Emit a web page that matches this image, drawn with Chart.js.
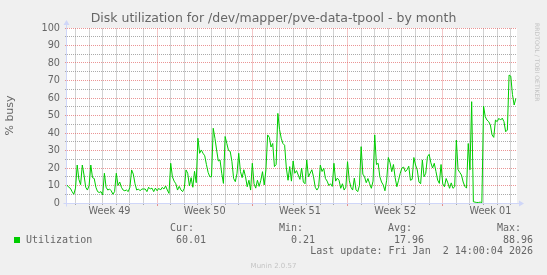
<!DOCTYPE html>
<html>
<head>
<meta charset="utf-8">
<title>Disk utilization for /dev/mapper/pve-data-tpool - by month</title>
<script src="https://cdn.jsdelivr.net/npm/chart.js@4.4.1/dist/chart.umd.min.js"></script>
<style>
  html, body { margin: 0; padding: 0; background: #f0f0f0; }
  canvas { display: block; }
</style>
</head>
<body>
<canvas id="grafico" width="547" height="275"></canvas>
<script>
const stepHours = 3;
const xMaxHours = 794;
const weekLabels = ['Week 49', 'Week 50', 'Week 51', 'Week 52', 'Week 01'];
const weekStartHours = [-9, 159, 327, 495, 663];   // domingo 00:00, em horas desde o início
const firstMidnight = 15;

const busy = [
  10.3, 9, 8.4, 6.5, 5, 8.5, 21.7, 13.5, 10.5, 21.7, 16, 9, 7.4, 10, 21.7, 14.5, 14, 9, 6.5, 6,
  6.5, 4.6, 17, 9, 7.4, 8, 7, 5, 6.5, 17, 10, 12, 9, 7.4, 7, 7.4, 6.5, 9, 18.9, 16.5,
  11, 7.4, 8, 7, 8, 8, 8, 6.5, 9, 8, 8.5, 6.5,
  8.5, 7, 8.4, 7.4, 8.9, 8, 9.7, 7.4, 5.5, 22.7, 15, 12.5, 11, 7.4, 9.5, 7.5, 6.5, 8.4, 18.9, 17,
  9.7, 14.5, 9, 18.1, 11.6, 37, 28.4, 30.3, 28.4, 27, 22, 17.5, 15, 15, 42.7, 37, 30.3, 24, 24.6, 17,
  11.2, 38, 34, 30, 29.5, 23.6, 14, 12.2, 17, 28.4, 18, 14.5, 19,
  15, 9.3, 13, 7.4, 22.7, 11, 8.5, 13, 9.5, 13, 17.9, 10.3, 18.9, 38.9, 37.5, 32, 34, 20.8, 22, 51.2,
  42, 37, 34, 33, 20, 13, 20.8, 12.5, 24, 17, 18.5, 16, 13.5, 20, 12, 11, 24.6, 15, 17, 19,
  14.9, 9, 7.4, 9, 21.7, 18, 19.8, 14, 12.5, 10, 11, 9.5, 22.7,
  12.5, 14.2, 13, 8.4, 11, 7.4, 9, 23.6, 13, 9, 7.4, 14.2, 7.5, 6.5, 10, 32.2, 16.5, 15, 11.6, 14,
  11, 8.4, 12.5, 38.9, 22, 22.7, 15, 12, 10.3, 7, 13, 26, 23, 17.9, 22, 14.5, 9.3, 13, 17, 20,
  20.5, 17.9, 19, 21, 13, 13.5, 26, 21.7, 18.9, 12, 11, 24.6, 15,
  17, 26.5, 27.8, 23, 20, 22.7, 18, 13.1, 11.2, 22, 10.9, 9.3, 14, 11.5, 8.4, 11.5, 8.4, 9.3, 36, 19,
  17.5, 16, 12, 9.5, 8.5, 34, 19, 57.9, 0.7, 0.5, 0.3, 0.3, 0.5, 0.2, 55.4, 49.3, 47.4, 46.5, 44.6, 38.9,
  37.5, 47.4, 46.5, 48.4, 47.4, 48.5, 46.5, 40.7, 41.7, 73.1, 72.5, 62, 56, 59.8
];

const statNames = ['Cur:', 'Min:', 'Avg:', 'Max:'];
const statValues = ['60.01', '0.21', '17.96', '88.96'];
const seriesName = 'Utilization';
const lastUpdate = 'Last update: Fri Jan  2 14:00:04 2026';

const MAJOR = 'rgba(222,79,79,0.6)';
const MINOR = 'rgba(143,143,143,0.75)';
// linhas verticais: contínuas, com metade da opacidade (mesmo tom médio do pontilhado)
const MAJOR_V = 'rgba(222,79,79,0.32)';
const MINOR_V = 'rgba(143,143,143,0.4)';
const AXIS = '#cfd6f8';
const TEXT = '#666666';
const SANS = '"DejaVu Sans", sans-serif';
const MONO = '"DejaVu Sans Mono", monospace';

const yGridColor = c => c.tick.value === 0 ? 'rgba(0,0,0,0)' : (c.tick.value % 10 === 0 ? MAJOR : MINOR);

// fundo cinza + área branca
const fundo = {
    id: 'fundo',
    beforeDraw(chart) {
        const { ctx, chartArea: a } = chart;
        ctx.save();
        ctx.fillStyle = '#f0f0f0';
        ctx.fillRect(0, 0, chart.width, chart.height);
        ctx.fillStyle = '#ffffff';
        ctx.fillRect(a.left, a.top, a.right - a.left, a.bottom - a.top);
        ctx.restore();
    }
};

// eixos com setas, no estilo rrdtool
const eixos = {
    id: 'eixos',
    beforeDatasetsDraw(chart) {
        const { ctx, chartArea: a } = chart;
        const x0 = a.left - 0.5, y0 = a.bottom + 0.5;
        ctx.save();
        ctx.strokeStyle = AXIS;
        ctx.fillStyle = AXIS;
        ctx.lineWidth = 1;
        ctx.beginPath();
        ctx.moveTo(x0, y0 + 3); ctx.lineTo(x0, a.top - 3);
        ctx.moveTo(x0 - 3, y0); ctx.lineTo(a.right + 2, y0);
        ctx.stroke();
        ctx.beginPath();
        ctx.moveTo(x0 - 3, a.top - 3); ctx.lineTo(x0 + 3, a.top - 3); ctx.lineTo(x0, a.top - 8);
        ctx.closePath(); ctx.fill();
        ctx.beginPath();
        ctx.moveTo(a.right + 2, y0 - 3); ctx.lineTo(a.right + 2, y0 + 3); ctx.lineTo(a.right + 7, y0);
        ctx.closePath(); ctx.fill();
        ctx.restore();
    }
};

// legenda de texto embaixo + marcas d'água
const legenda = {
    id: 'legenda',
    afterDraw(chart) {
        const ctx = chart.ctx;
        ctx.save();
        ctx.font = '10px ' + MONO;
        ctx.fillStyle = TEXT;
        ctx.textBaseline = 'middle';
        ctx.textAlign = 'right';
        const labelRight = [194, 303, 412, 521];
        statNames.forEach((s, i) => ctx.fillText(s, labelRight[i], 228));
        statValues.forEach((s, i) => ctx.fillText(s, labelRight[i] + 12, 240));
        ctx.fillText(lastUpdate, 533, 251);
        ctx.textAlign = 'left';
        ctx.fillText(seriesName, 26, 240);
        ctx.fillStyle = '#00cc00';
        ctx.fillRect(14, 237, 6, 6);

        ctx.fillStyle = '#c4c4c4';
        ctx.font = '7px ' + SANS;
        ctx.textAlign = 'center';
        ctx.fillText('Munin 2.0.57', 273.5, 266);
        ctx.translate(537, 23);
        ctx.rotate(Math.PI / 2);
        ctx.font = '6.1px ' + SANS;
        ctx.textAlign = 'left';
        ctx.fillText('RRDTOOL / TOBI OETIKER', 0, 0);
        ctx.restore();
    }
};

new Chart(document.getElementById('grafico'), {
    type: 'line',
    data: {
        datasets: [{
            label: seriesName,
            data: busy.map((v, i) => ({ x: i * stepHours, y: v })),
            borderColor: '#00cc00',
            borderWidth: 1,
            pointRadius: 0,
            tension: 0,
            fill: false
        }]
    },
    options: {
        responsive: false,
        animation: false,
        devicePixelRatio: 1,
        layout: { padding: 0 },
        plugins: {
            legend: { display: false },
            tooltip: { enabled: false },
            title: {
                display: true,
                text: 'Disk utilization for /dev/mapper/pve-data-tpool - by month',
                color: TEXT,
                font: { family: SANS, size: 12.5, weight: 'normal', lineHeight: 1.2 },
                padding: { top: 11, bottom: 2 }
            }
        },
        scales: {
            // linhas vermelhas: início de cada semana
            xw: {
                type: 'linear',
                position: 'bottom',
                min: 0,
                max: xMaxHours,
                weight: 0,
                afterBuildTicks: s => {
                    s.ticks = weekStartHours.filter(w => w > 0).map(w => ({ value: w }));
                },
                afterFit: s => { s.height = 0; },
                ticks: { display: false, autoSkip: false },
                grid: { color: MAJOR_V, tickColor: MAJOR, tickLength: 3 },
                border: { display: false }
            },
            // grade diária
            x: {
                type: 'linear',
                position: 'bottom',
                min: 0,
                max: xMaxHours,
                weight: 1,
                afterBuildTicks: s => {
                    const t = [];
                    for (let h = firstMidnight; h < xMaxHours; h += 24) {
                        if (!weekStartHours.includes(h)) t.push({ value: h });
                    }
                    s.ticks = t;
                },
                afterFit: s => { s.height = 2; },
                ticks: { display: false, autoSkip: false },
                grid: { color: MINOR_V, tickColor: MINOR, tickLength: 2 },
                border: { display: false }
            },
            // rótulos das semanas
            xl: {
                type: 'linear',
                position: 'bottom',
                min: 0,
                max: xMaxHours,
                weight: 2,
                afterBuildTicks: s => {
                    s.ticks = weekStartHours.map(w => ({ value: w + 84 }));
                },
                afterFit: s => { s.height = 70; },
                ticks: {
                    autoSkip: false,
                    maxRotation: 0,
                    padding: 1,
                    color: TEXT,
                    font: { family: SANS, size: 9.7 },
                    callback: (v, i) => weekLabels[i]
                },
                grid: { display: false, drawTicks: false },
                border: { display: false }
            },
            y: {
                min: 0,
                max: 100,
                afterFit: s => { s.width = 67; },
                ticks: {
                    stepSize: 5,
                    autoSkip: false,
                    padding: 5,
                    color: TEXT,
                    font: { family: SANS, size: 9.7 },
                    callback: v => (v % 10 === 0 ? String(v) : '')
                },
                grid: { color: yGridColor, tickColor: yGridColor, tickLength: 2 },
                border: { display: false, dash: [1, 1] },
                title: {
                    display: true,
                    text: '% busy',
                    color: TEXT,
                    font: { family: SANS, size: 11 }
                }
            },
            yr: {
                position: 'right',
                grid: { display: false },
                ticks: { display: false },
                border: { display: false },
                afterFit: s => { s.width = 30; }
            }
        }
    },
    plugins: [fundo, eixos, legenda]
});
</script>
</body>
</html>
